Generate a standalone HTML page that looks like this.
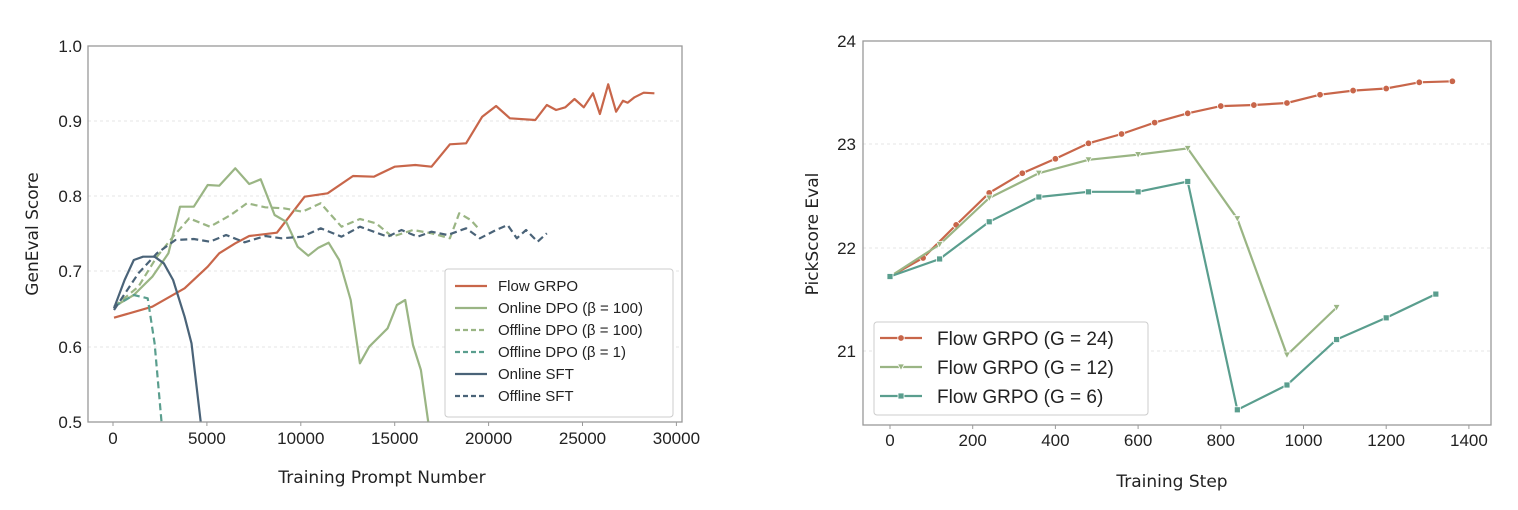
<!DOCTYPE html>
<html><head><meta charset="utf-8"><style>
html,body{margin:0;padding:0;background:#fff;}
svg{display:block;font-family:"DejaVu Sans","Liberation Sans",sans-serif;}
.n{font-family:"Liberation Sans Narrow","Liberation Sans",sans-serif;}
</style></head><body>
<svg id="s" width="1518" height="510" xmlns="http://www.w3.org/2000/svg">
<rect width="1518" height="510" fill="#fff"/>
<g stroke="#e4e4e4" stroke-dasharray="3,3" stroke-width="1">
<line x1="88" x2="682" y1="121" y2="121"/><line x1="88" x2="682" y1="196" y2="196"/>
<line x1="88" x2="682" y1="271" y2="271"/><line x1="88" x2="682" y1="347" y2="347"/>
</g>
<g id="L" fill="none" stroke-width="2.2" stroke-linejoin="round"></g>
<rect x="88" y="46" width="594" height="376" fill="none" stroke="#999" stroke-width="1.3"/>
<g class="n" font-size="17" fill="#222" text-anchor="end">
<text x="82" y="52">1.0</text><text x="82" y="127">0.9</text><text x="82" y="202">0.8</text>
<text x="82" y="277">0.7</text><text x="82" y="353">0.6</text><text x="82" y="428">0.5</text>
</g>
<g class="n" font-size="17" fill="#222" text-anchor="middle" id="LX"></g>
<text x="382" y="483" font-size="17" fill="#222" text-anchor="middle">Training Prompt Number</text>
<text transform="translate(38,234) rotate(-90)" font-size="17" fill="#222" text-anchor="middle">GenEval Score</text>
<rect x="445" y="269" width="228" height="148" rx="3" fill="#fff" stroke="#ccc"/>
<g class="n" font-size="15" fill="#222" id="LL"></g>
<g stroke="#e4e4e4" stroke-dasharray="3,3" stroke-width="1">
<line x1="863" x2="1491" y1="144" y2="144"/><line x1="863" x2="1491" y1="248" y2="248"/><line x1="863" x2="1491" y1="351" y2="351"/>
</g>
<g id="R" fill="none" stroke-width="2.2"></g>
<rect x="863" y="41" width="628" height="384" fill="none" stroke="#999" stroke-width="1.3"/>
<g class="n" font-size="17" fill="#222" text-anchor="end">
<text x="856" y="47">24</text><text x="856" y="150">23</text><text x="856" y="254">22</text><text x="856" y="357">21</text>
</g>
<g class="n" font-size="17" fill="#222" text-anchor="middle" id="RX"></g>
<text x="1172" y="487" font-size="17" fill="#222" text-anchor="middle">Training Step</text>
<text transform="translate(818,234) rotate(-90)" font-size="17" fill="#222" text-anchor="middle">PickScore Eval</text>
<rect x="874" y="322" width="274" height="93" rx="3" fill="#fff" stroke="#ccc"/>
<g class="n" font-size="19" fill="#222" id="RL"></g>
</svg>
<script>
var NS="http://www.w3.org/2000/svg";
function el(p,t,a,txt){var e=document.createElementNS(NS,t);for(var k in a)e.setAttribute(k,a[k]);if(txt!==undefined)e.textContent=txt;p.appendChild(e);return e;}
var O="#c8664a",G="#9ab584",T="#5a9e8e",D="#4a6378";
var L=document.getElementById('L');
function zp(a){var s=[];for(var i=0;i<a.length;i+=2)s.push((a[i]/2.167).toFixed(1)+","+(a[i+1]/3+20).toFixed(1));return s.join(" ");}
var ls=[
[O,"",[247,893,330,860,400,805,450,740,475,700,510,670,540,648,600,638,660,530,710,520,765,468,810,470,855,440,900,435,935,440,975,373,1010,370,1045,290,1075,258,1105,295,1160,300,1185,255,1205,270,1225,262,1245,237,1265,262,1285,220,1300,282,1318,193,1335,275,1350,242,1360,248,1375,232,1395,218,1418,220]],
[G,"",[247,860,290,825,330,770,365,700,390,560,420,560,450,495,475,497,510,445,540,492,565,478,595,585,620,605,645,680,668,707,690,683,712,668,735,720,760,840,780,1030,800,980,840,925,860,855,878,840,895,975,912,1050,928,1205]],
[G,"7,4",[247,860,300,800,340,710,375,650,410,595,455,620,500,585,535,550,575,562,615,565,655,575,695,550,740,620,780,597,815,610,850,650,895,630,935,640,975,655,995,580,1020,600,1040,630]],
[T,"7,4",[247,860,290,825,320,835,335,970,350,1205]],
[D,"",[247,865,270,780,290,720,310,710,335,710,355,730,375,780,400,890,415,970,435,1205]],
[D,"7,4",[247,870,300,760,340,700,380,660,420,657,455,665,490,645,530,667,575,648,610,655,655,650,695,625,740,650,780,620,810,635,840,650,870,630,905,650,935,635,970,645,1010,625,1040,655,1075,630,1100,615,1120,655,1140,630,1165,665,1185,640]]];
el(L,'clipPath',{id:'cl'});el(document.getElementById('cl'),'rect',{x:88,y:46,width:594,height:376});
ls.forEach(function(l){var a={points:zp(l[2]),stroke:l[0],'clip-path':'url(#cl)'};if(l[1])a['stroke-dasharray']=l[1];el(L,'polyline',a);});
var LX=document.getElementById('LX');
for(var i=0;i<=6;i++){var x=113+i*93.9;el(LX,'text',{x:x,y:444},String(i*5000));el(LX,'line',{x1:x,x2:x,y1:422,y2:426,stroke:'#999'});}
var LL=document.getElementById('LL');
var ln=[[O,"","Flow GRPO"],[G,"","Online DPO (β = 100)"],[G,"5,3","Offline DPO (β = 100)"],[T,"5,3","Offline DPO (β = 1)"],[D,"","Online SFT"],[D,"5,3","Offline SFT"]];
ln.forEach(function(l,i){var y=291+i*22;var a={x1:455,x2:487,y1:y-5,y2:y-5,stroke:l[0],'stroke-width':2.2};if(l[1])a['stroke-dasharray']=l[1];el(LL,'line',a);el(LL,'text',{x:498,y:y},l[2]);});
var R=document.getElementById('R');
function px(s){return 890+0.4135*s;}function py(v){return 41+(24-v)*103.3;}
var rs=[[O,'c',[[0,21.72],[80,21.9],[160,22.22],[240,22.53],[320,22.72],[400,22.86],[480,23.01],[560,23.1],[640,23.21],[720,23.3],[800,23.37],[880,23.38],[960,23.4],[1040,23.48],[1120,23.52],[1200,23.54],[1280,23.6],[1360,23.61]]],
[G,'v',[[0,21.72],[120,22.03],[240,22.48],[360,22.72],[480,22.85],[600,22.9],[720,22.96],[840,22.28],[960,20.96],[1080,21.42]]],
[T,'s',[[0,21.72],[120,21.89],[240,22.25],[360,22.49],[480,22.54],[600,22.54],[720,22.64],[840,20.43],[960,20.67],[1080,21.11],[1200,21.32],[1320,21.55]]]];
function mk(p,m,x,y,c){if(m=='c')el(p,'circle',{cx:x,cy:y,r:3.3,fill:c,stroke:'#fff','stroke-width':0.8});else if(m=='s')el(p,'rect',{x:x-3,y:y-3,width:6,height:6,fill:c,stroke:'#fff','stroke-width':0.8});else el(p,'polygon',{points:(x-3.5)+","+(y-3)+" "+(x+3.5)+","+(y-3)+" "+x+","+(y+3.5),fill:c,stroke:'#fff','stroke-width':0.8});}
rs.forEach(function(r){el(R,'polyline',{points:r[2].map(function(p){return px(p[0]).toFixed(1)+","+py(p[1]).toFixed(1);}).join(" "),stroke:r[0]});r[2].forEach(function(p){mk(R,r[1],px(p[0]),py(p[1]),r[0]);});});
var RX=document.getElementById('RX');
for(var i=0;i<=7;i++){var x=px(i*200);el(RX,'text',{x:x,y:446},String(i*200));el(RX,'line',{x1:x,x2:x,y1:425,y2:429,stroke:'#999'});}
var RL=document.getElementById('RL');
var rl=[[O,'c',"Flow GRPO (G = 24)"],[G,'v',"Flow GRPO (G = 12)"],[T,'s',"Flow GRPO (G = 6)"]];
rl.forEach(function(l,i){var y=345+i*29;el(RL,'line',{x1:880,x2:922,y1:y-7,y2:y-7,stroke:l[0],'stroke-width':2.2});mk(RL,l[1],901,y-7,l[0]);el(RL,'text',{x:937,y:y},l[2]);});
</script>
</body></html>
